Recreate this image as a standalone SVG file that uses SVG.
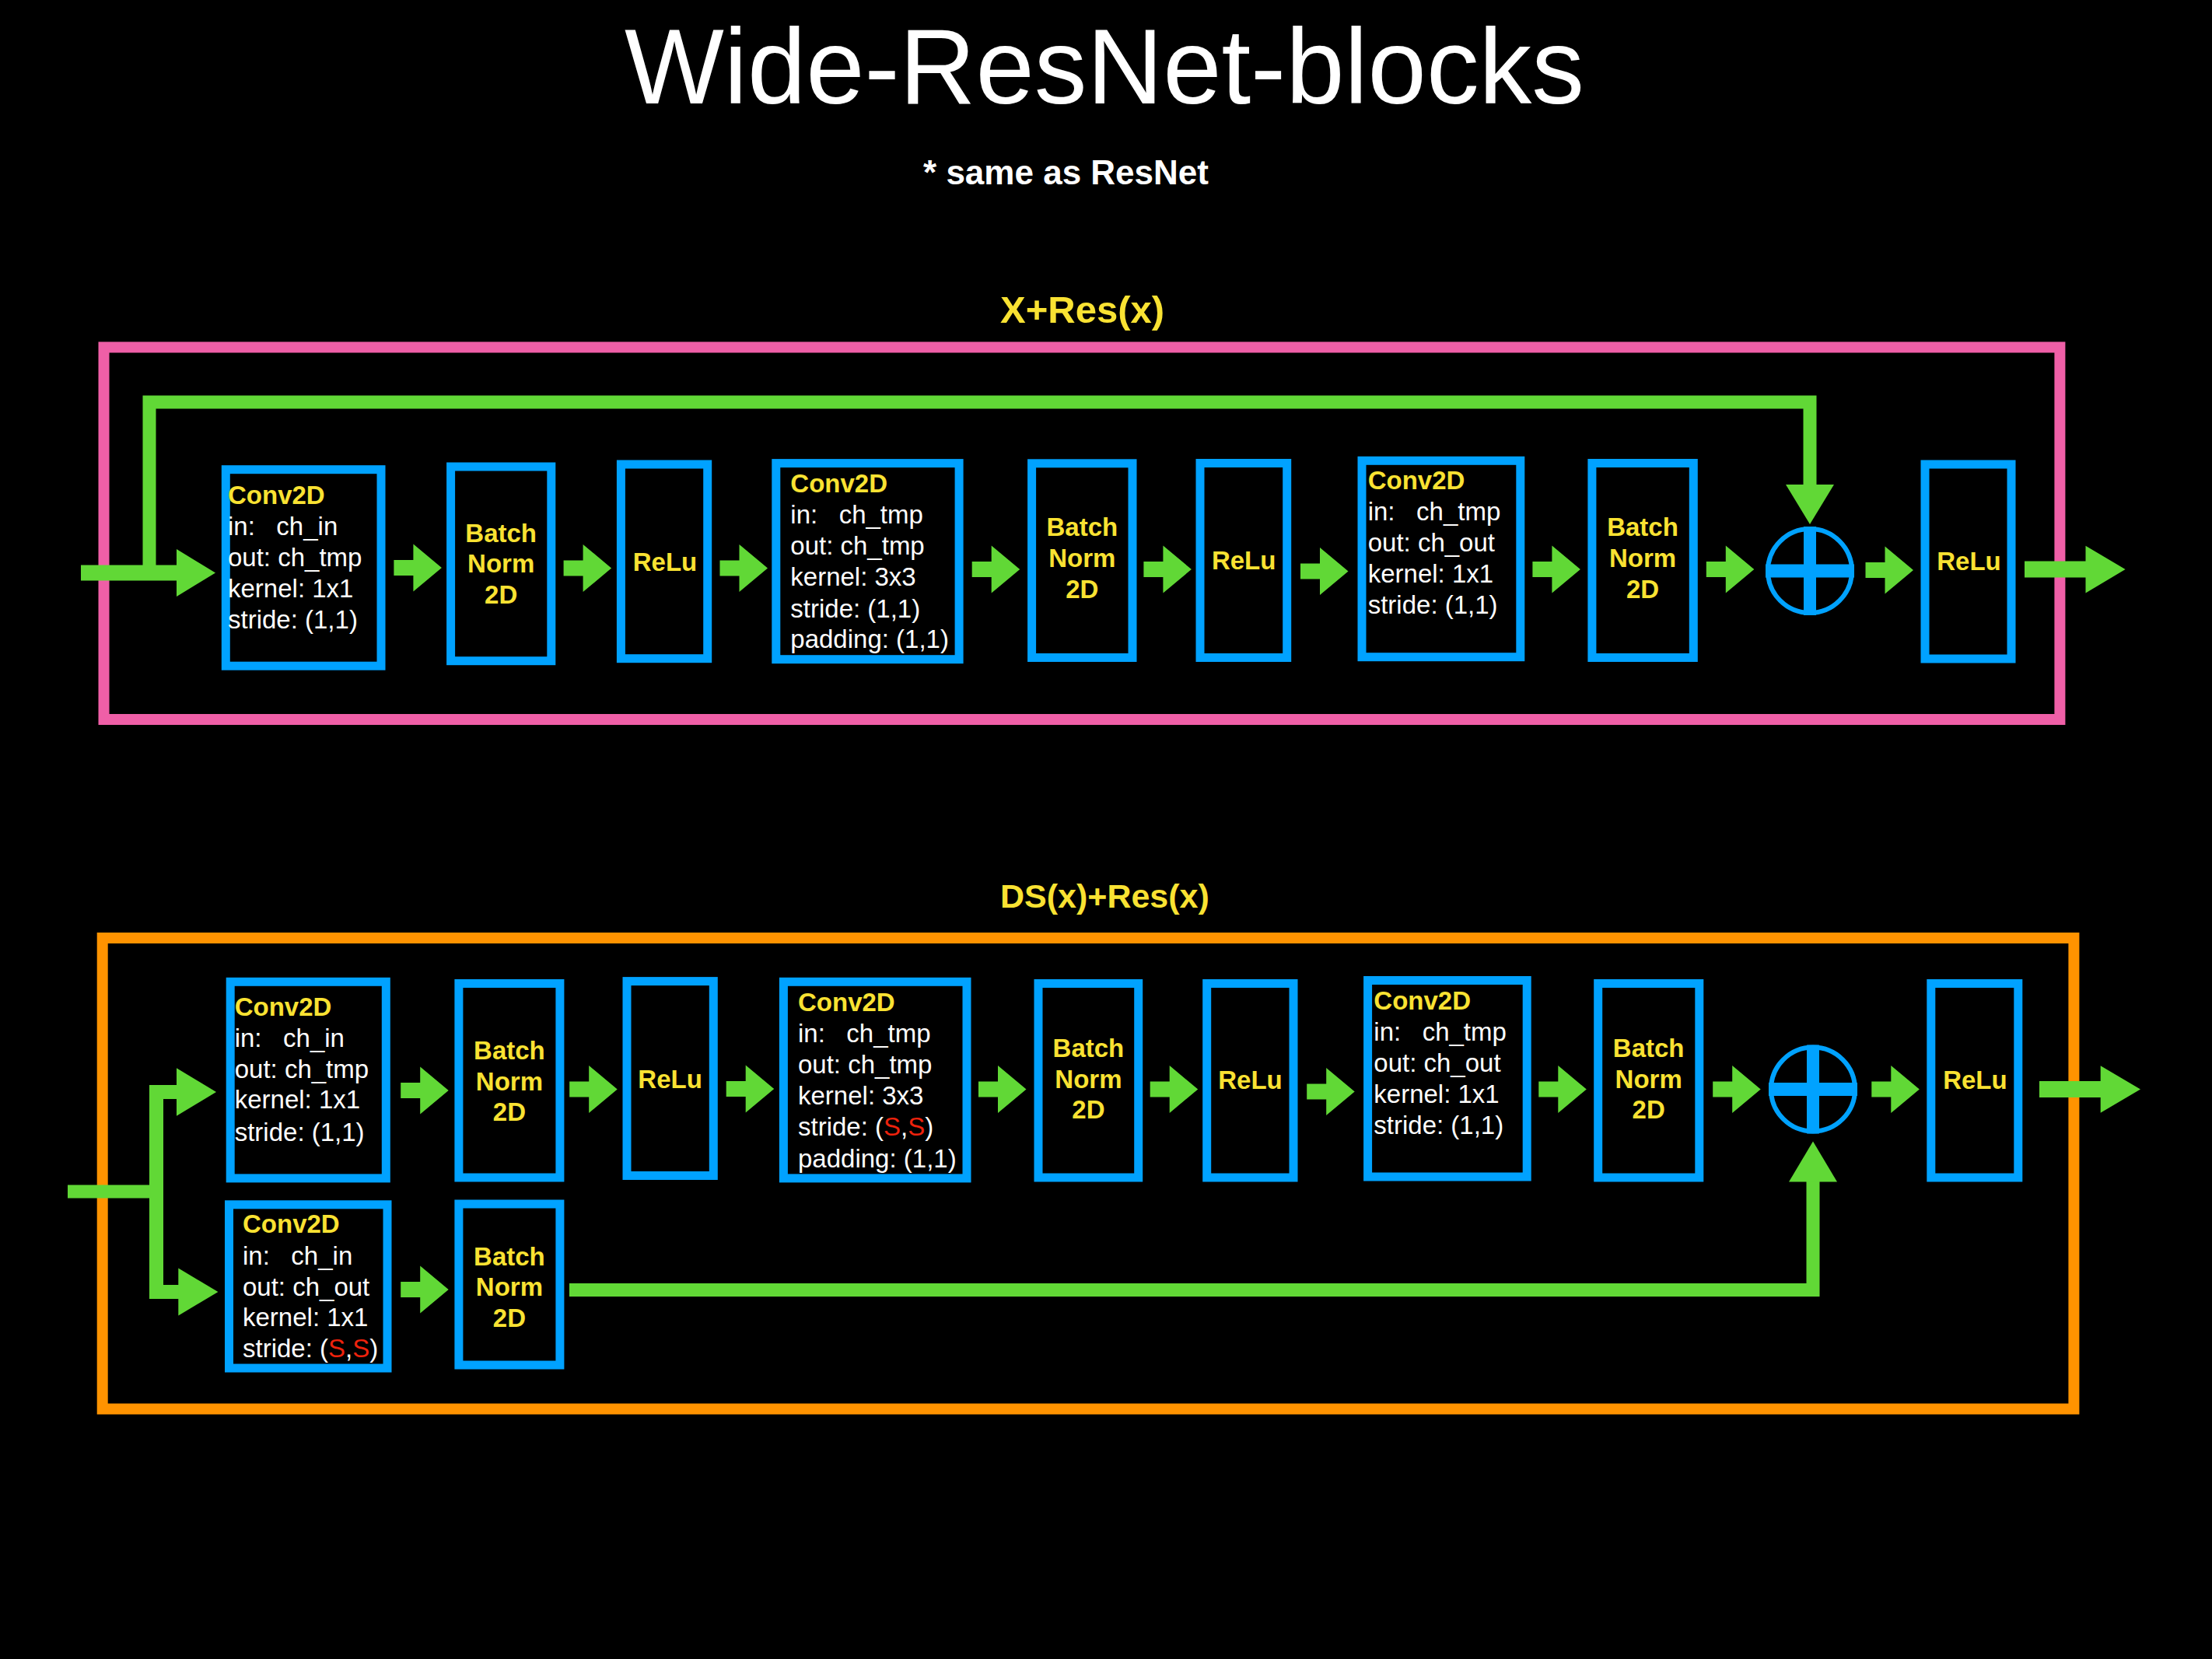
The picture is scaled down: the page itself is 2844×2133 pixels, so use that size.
<svg xmlns="http://www.w3.org/2000/svg" xmlns:xlink="http://www.w3.org/1999/xlink" width="2844" height="2133" viewBox="0 0 2844 2133">
<defs>
<style>
text{font-family:"Liberation Sans",Arial,Helvetica,sans-serif;}
.t{fill:#FFFFFF;font-size:33px;white-space:pre;}
.h{fill:#F9E232;font-size:33px;font-weight:bold;}
.c{fill:#F9E232;font-size:33px;font-weight:bold;text-anchor:middle;}
.r{fill:#EE220C;}
.box{fill:none;stroke:#00A2FF;stroke-width:11;}
.frame{fill:none;stroke-width:14;}
.line{fill:none;stroke:#61D836;stroke-width:17;stroke-linejoin:miter;}
.g{fill:#61D836;}
.plus{fill:none;stroke:#00A2FF;}
</style>
<path id="arr" d="M0,-10 H25 V-30.5 L61.5,0 L25,30.5 V10 H0 Z"/>
</defs>
<rect x="0" y="0" width="2844" height="2133" fill="#000000"/>

<g id="titles">
<text x="803" y="132.7" textLength="1234" lengthAdjust="spacingAndGlyphs" style="font-size:138px;fill:#FFFFFF;">Wide-ResNet-blocks</text>
<text x="1370.5" y="237.3" text-anchor="middle" style="font-size:44px;font-weight:bold;fill:#FFFFFF;">* same as ResNet</text>
<text x="1286" y="415" style="font-size:49px;font-weight:bold;fill:#F9E232;">X+Res(x)</text>
<text x="1286" y="1166.7" style="font-size:43px;font-weight:bold;fill:#F9E232;">DS(x)+Res(x)</text>
</g>

<g id="frame-identity"><rect class="frame" x="133.5" y="446.5" width="2514.9" height="478.5" stroke="#EF5FA7"/></g>
<g id="frame-downsample"><rect class="frame" x="131.7" y="1206" width="2534.7" height="605.5" stroke="#FF9300"/></g>

<!-- Top block nodes -->
<g id="t-conv1">
<rect class="box" x="290.3" y="603.7" width="199.7" height="252.5"/>
<text class="h" x="293" y="648">Conv2D</text>
<text class="t" x="293" y="688">in:   ch_in</text>
<text class="t" x="293" y="727.5">out: ch_tmp</text>
<text class="t" x="293" y="767.8">kernel: 1x1</text>
<text class="t" x="293" y="808">stride: (1,1)</text>
</g>
<g id="t-bn1">
<rect class="box" x="579.6" y="600" width="129.2" height="249.7"/>
<text class="c" x="644.2" y="696.5">Batch</text>
<text class="c" x="644.2" y="736">Norm</text>
<text class="c" x="644.2" y="776.4">2D</text>
</g>
<g id="t-relu1">
<rect class="box" x="798.4" y="597" width="111.3" height="249.7"/>
<text class="c" x="855" y="734">ReLu</text>
</g>
<g id="t-conv2">
<rect class="box" x="997.8" y="595.6" width="235.3" height="252.1"/>
<text class="h" x="1016.3" y="633">Conv2D</text>
<text class="t" x="1016.3" y="673">in:   ch_tmp</text>
<text class="t" x="1016.3" y="713">out: ch_tmp</text>
<text class="t" x="1016.3" y="753">kernel: 3x3</text>
<text class="t" x="1016.3" y="793.5">stride: (1,1)</text>
<text class="t" x="1016.3" y="833">padding: (1,1)</text>
</g>
<g id="t-bn2">
<rect class="box" x="1326.6" y="595.8" width="129.4" height="249.7"/>
<text class="c" x="1391.3" y="688.6">Batch</text>
<text class="c" x="1391.3" y="728.9">Norm</text>
<text class="c" x="1391.3" y="768.8">2D</text>
</g>
<g id="t-relu2">
<rect class="box" x="1543" y="595.5" width="111.7" height="250"/>
<text class="c" x="1599.2" y="731.6">ReLu</text>
</g>
<g id="t-conv3">
<rect class="box" x="1751" y="592.3" width="203.8" height="252.4"/>
<text class="h" x="1758.7" y="628.7">Conv2D</text>
<text class="t" x="1758.7" y="668.6">in:   ch_tmp</text>
<text class="t" x="1758.7" y="709">out: ch_out</text>
<text class="t" x="1758.7" y="749">kernel: 1x1</text>
<text class="t" x="1758.7" y="788.5">stride: (1,1)</text>
</g>
<g id="t-bn3">
<rect class="box" x="2046.9" y="595.5" width="130.4" height="250"/>
<text class="c" x="2112" y="688.6">Batch</text>
<text class="c" x="2112" y="728.9">Norm</text>
<text class="c" x="2112" y="768.8">2D</text>
</g>
<g id="t-add">
<circle class="plus" cx="2327" cy="734" r="54" stroke-width="6"/>
<line x1="2270" y1="734" x2="2384" y2="734" stroke="#00A2FF" stroke-width="17"/>
<line x1="2327" y1="677" x2="2327" y2="791" stroke="#00A2FF" stroke-width="16"/>
</g>
<g id="t-relu3">
<rect class="box" x="2475" y="597" width="111" height="250"/>
<text class="c" x="2531.5" y="733.4">ReLu</text>
</g>

<!-- Bottom block nodes -->
<g id="b-conv1">
<rect class="box" x="296.2" y="1262.3" width="200.1" height="252.6"/>
<text class="h" x="301.7" y="1306">Conv2D</text>
<text class="t" x="301.7" y="1346.4">in:   ch_in</text>
<text class="t" x="301.7" y="1386.3">out: ch_tmp</text>
<text class="t" x="301.7" y="1425.3">kernel: 1x1</text>
<text class="t" x="301.7" y="1466.6">stride: (1,1)</text>
</g>
<g id="b-bn1">
<rect class="box" x="589.9" y="1264.5" width="130" height="249.5"/>
<text class="c" x="654.9" y="1362.4">Batch</text>
<text class="c" x="654.9" y="1402">Norm</text>
<text class="c" x="654.9" y="1441.4">2D</text>
</g>
<g id="b-relu1">
<rect class="box" x="806" y="1261.6" width="111.3" height="249.9"/>
<text class="c" x="861.6" y="1398.7">ReLu</text>
</g>
<g id="b-conv2">
<rect class="box" x="1007.4" y="1262.3" width="235.6" height="252.6"/>
<text class="h" x="1026" y="1300.4">Conv2D</text>
<text class="t" x="1026" y="1340.4">in:   ch_tmp</text>
<text class="t" x="1026" y="1380.3">out: ch_tmp</text>
<text class="t" x="1026" y="1419.8">kernel: 3x3</text>
<text class="t" x="1026" y="1459.8">stride: (<tspan class="r">S</tspan>,<tspan class="r">S</tspan>)</text>
<text class="t" x="1026" y="1501">padding: (1,1)</text>
</g>
<g id="b-bn2">
<rect class="box" x="1335" y="1264.5" width="128.7" height="249.5"/>
<text class="c" x="1399.4" y="1358.7">Batch</text>
<text class="c" x="1399.4" y="1398.7">Norm</text>
<text class="c" x="1399.4" y="1438.2">2D</text>
</g>
<g id="b-relu2">
<rect class="box" x="1551.7" y="1264.5" width="111.3" height="249.5"/>
<text class="c" x="1607.5" y="1400">ReLu</text>
</g>
<g id="b-conv3">
<rect class="box" x="1758.6" y="1260.5" width="204.6" height="252.5"/>
<text class="h" x="1766.3" y="1298">Conv2D</text>
<text class="t" x="1766.3" y="1338">in:   ch_tmp</text>
<text class="t" x="1766.3" y="1378">out: ch_out</text>
<text class="t" x="1766.3" y="1417.5">kernel: 1x1</text>
<text class="t" x="1766.3" y="1457.5">stride: (1,1)</text>
</g>
<g id="b-bn3">
<rect class="box" x="2054.7" y="1264.5" width="130.1" height="249.5"/>
<text class="c" x="2119.7" y="1358.7">Batch</text>
<text class="c" x="2119.7" y="1398.7">Norm</text>
<text class="c" x="2119.7" y="1438.2">2D</text>
</g>
<g id="b-add">
<circle class="plus" cx="2331" cy="1400.5" r="54" stroke-width="6"/>
<line x1="2274" y1="1400.5" x2="2388" y2="1400.5" stroke="#00A2FF" stroke-width="17"/>
<line x1="2331" y1="1343.5" x2="2331" y2="1457.5" stroke="#00A2FF" stroke-width="16"/>
</g>
<g id="b-relu3">
<rect class="box" x="2482.8" y="1264.5" width="112" height="249.5"/>
<text class="c" x="2539.4" y="1400">ReLu</text>
</g>
<g id="b-dsconv">
<rect class="box" x="294.5" y="1548.8" width="203.5" height="210.2"/>
<text class="h" x="312" y="1585">Conv2D</text>
<text class="t" x="312" y="1626">in:   ch_in</text>
<text class="t" x="312" y="1666.4">out: ch_out</text>
<text class="t" x="312" y="1705.4">kernel: 1x1</text>
<text class="t" x="312" y="1745.3">stride: (<tspan class="r">S</tspan>,<tspan class="r">S</tspan>)</text>
</g>
<g id="b-dsbn">
<rect class="box" x="589.9" y="1548" width="130" height="207"/>
<text class="c" x="654.9" y="1627.3">Batch</text>
<text class="c" x="654.9" y="1666.4">Norm</text>
<text class="c" x="654.9" y="1706.3">2D</text>
</g>

<g id="connectors">
<!-- top block -->
<path class="line" d="M192,737 V517 H2327 V626"/>
<polygon class="g" points="2296,623 2358,623 2327,674"/>
<path class="g" d="M104,726.5 H227 V706 L277,736.5 L227,767 V746.5 H104 Z"/>
<use xlink:href="#arr" href="#arr" class="g" x="506.4" y="730"/>
<use xlink:href="#arr" href="#arr" class="g" x="724.6" y="730.5"/>
<use xlink:href="#arr" href="#arr" class="g" x="925.5" y="730.5"/>
<use xlink:href="#arr" href="#arr" class="g" x="1249.7" y="732"/>
<use xlink:href="#arr" href="#arr" class="g" x="1470.4" y="732"/>
<use xlink:href="#arr" href="#arr" class="g" x="1672" y="734.5"/>
<use xlink:href="#arr" href="#arr" class="g" x="1970.4" y="732"/>
<use xlink:href="#arr" href="#arr" class="g" x="2193.8" y="732"/>
<use xlink:href="#arr" href="#arr" class="g" x="2398.5" y="733"/>
<path class="g" d="M2603,721.5 H2681.5 V701.7 L2732.6,732 L2681.5,762.6 V742.5 H2603 Z"/>
<!-- bottom block -->
<path class="line" d="M87,1532 H201"/>
<path class="line" style="stroke-width:18" d="M229,1404 H201 V1661 H231"/>
<polygon class="g" points="227,1373.2 278,1404 227,1434.8"/>
<polygon class="g" points="229.3,1630.6 280.4,1661 229.3,1691.4"/>
<use xlink:href="#arr" href="#arr" class="g" x="515.2" y="1402"/>
<use xlink:href="#arr" href="#arr" class="g" x="732.2" y="1400.5"/>
<use xlink:href="#arr" href="#arr" class="g" x="933.7" y="1400"/>
<use xlink:href="#arr" href="#arr" class="g" x="1258" y="1400.5"/>
<use xlink:href="#arr" href="#arr" class="g" x="1478.7" y="1400.5"/>
<use xlink:href="#arr" href="#arr" class="g" x="1680.2" y="1403.5"/>
<use xlink:href="#arr" href="#arr" class="g" x="1978.3" y="1400.5"/>
<use xlink:href="#arr" href="#arr" class="g" x="2202.2" y="1400.5"/>
<use xlink:href="#arr" href="#arr" class="g" x="2406.3" y="1400.5"/>
<path class="g" d="M2622,1390 H2700.7 V1370.2 L2752,1400.5 L2700.7,1430.8 V1411 H2622 Z"/>
<use xlink:href="#arr" href="#arr" class="g" x="515.2" y="1658"/>
<path class="line" d="M732,1658.5 H2331 V1516"/>
<polygon class="g" points="2300,1519.4 2362,1519.4 2331,1467.6"/>
</g>
</svg>
